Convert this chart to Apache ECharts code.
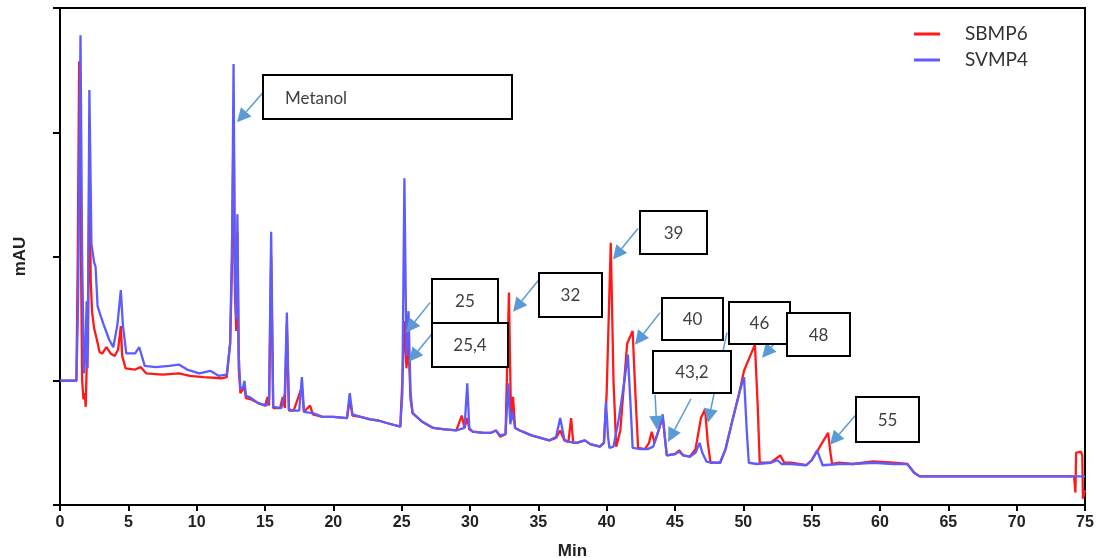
<!DOCTYPE html>
<html><head><meta charset="utf-8">
<script src="https://cdn.jsdelivr.net/npm/echarts@6/dist/echarts.min.js"></script>
<style>html,body{margin:0;padding:0;background:#fff}#c{width:1100px;height:558px}</style>
</head><body><div id="c"></div>
<script>
// ---- data ----
const seriesNames = ['SBMP6', 'SVMP4'];
const xAxisName = 'Min';
const yAxisName = 'mAU';

// SBMP6 : [time (min), signal]
const sbmp6 = [[0,1.0],[1.2,1.0],[1.3,2.0],[1.4,3.57],[1.52,2.2],[1.62,1.0],[1.72,0.85],[1.8,0.9],[1.88,0.79],[1.95,1.1],[2.05,1.3],[2.15,2.8],[2.25,1.8],[2.35,1.55],[2.5,1.42],[2.7,1.33],[2.9,1.23],[3.1,1.22],[3.4,1.27],[3.7,1.22],[4.0,1.2],[4.25,1.25],[4.45,1.44],[4.55,1.2],[4.8,1.1],[5.5,1.09],[5.9,1.11],[6.3,1.06],[7.5,1.05],[8.7,1.06],[9.5,1.04],[10.5,1.03],[11.8,1.02],[12.2,1.03],[12.45,1.3],[12.6,2.0],[12.7,3.2],[12.8,1.7],[12.9,1.4],[12.98,2.2],[13.08,1.1],[13.2,0.9],[13.5,0.95],[13.6,0.86],[14,0.85],[14.5,0.82],[15.0,0.8],[15.2,0.87],[15.3,0.8],[15.45,2.0],[15.6,0.78],[16.1,0.78],[16.3,0.87],[16.45,0.78],[16.6,1.45],[16.75,0.76],[17.1,0.76],[17.7,0.95],[17.85,0.75],[18.3,0.8],[18.5,0.73],[19.2,0.71],[20,0.71],[21.0,0.70],[21.2,0.85],[21.4,0.72],[22.0,0.71],[22.7,0.69],[23.3,0.68],[23.9,0.66],[24.9,0.63],[25.05,1.0],[25.2,1.48],[25.35,1.1],[25.5,1.3],[25.65,0.85],[25.8,0.74],[26.5,0.67],[27.3,0.62],[28.0,0.61],[29.0,0.6],[29.4,0.72],[29.6,0.62],[29.8,0.7],[29.95,0.61],[30.2,0.59],[31,0.58],[31.5,0.58],[31.9,0.6],[32.2,0.55],[32.6,0.57],[32.85,1.71],[33.0,0.7],[33.15,0.87],[33.3,0.62],[33.65,0.6],[34.5,0.56],[35.8,0.52],[36.3,0.54],[36.6,0.6],[36.9,0.52],[37.2,0.51],[37.4,0.7],[37.55,0.5],[37.8,0.5],[38.4,0.52],[38.8,0.49],[39.5,0.47],[39.8,0.5],[40.0,0.9],[40.3,2.11],[40.5,1.0],[40.7,0.47],[41.0,0.6],[41.5,1.3],[41.9,1.4],[42.1,0.9],[42.3,0.46],[42.8,0.45],[43.1,0.5],[43.3,0.59],[43.5,0.5],[43.8,0.6],[44.1,0.71],[44.3,0.5],[44.4,0.4],[45.0,0.41],[45.3,0.44],[45.6,0.4],[46.1,0.39],[46.5,0.45],[46.9,0.7],[47.2,0.77],[47.4,0.5],[47.6,0.34],[48.3,0.34],[48.7,0.45],[49.2,0.68],[49.7,0.9],[50.05,1.08],[50.5,1.2],[50.85,1.29],[51.05,0.8],[51.2,0.34],[52.0,0.34],[52.7,0.4],[53.0,0.34],[53.5,0.34],[54.6,0.32],[55.0,0.36],[55.5,0.45],[56.2,0.58],[56.4,0.4],[56.5,0.33],[57,0.34],[58,0.33],[59.5,0.35],[61,0.34],[62,0.33],[62.5,0.26],[62.9,0.23],[74.2,0.23],[74.3,0.1],[74.35,0.42],[74.7,0.43],[74.8,0.4],[74.85,0.05],[75,0.12]];

// SVMP4 : [time (min), signal]
const svmp4 = [[0,1.0],[1.2,1.0],[1.32,1.6],[1.5,3.78],[1.62,2.0],[1.75,1.06],[1.85,1.2],[1.95,1.64],[2.02,1.1],[2.15,3.34],[2.3,2.1],[2.5,1.95],[2.6,1.92],[2.75,1.6],[2.95,1.53],[3.2,1.45],[3.6,1.33],[3.9,1.27],[4.2,1.45],[4.45,1.73],[4.6,1.45],[4.85,1.22],[5.5,1.22],[5.8,1.27],[6.2,1.12],[7,1.11],[8.0,1.12],[8.7,1.13],[9.3,1.09],[10.2,1.06],[11.0,1.08],[11.6,1.04],[12.2,1.05],[12.45,1.3],[12.6,2.2],[12.7,3.55],[12.8,1.8],[12.9,1.5],[12.98,2.34],[13.08,1.2],[13.2,0.93],[13.4,0.95],[13.5,1.0],[13.6,0.88],[14.0,0.86],[14.5,0.82],[15.1,0.8],[15.3,0.85],[15.45,2.2],[15.6,0.79],[16.2,0.78],[16.45,0.9],[16.6,1.55],[16.75,0.77],[17.1,0.76],[17.5,0.76],[17.7,1.03],[17.85,0.75],[18.5,0.74],[19.2,0.71],[20.0,0.71],[21.0,0.70],[21.2,0.9],[21.4,0.73],[22.0,0.71],[22.7,0.69],[23.3,0.68],[23.9,0.66],[24.9,0.63],[25.05,0.9],[25.2,2.63],[25.35,1.2],[25.5,1.56],[25.65,0.9],[25.8,0.74],[26.5,0.67],[27.3,0.62],[28.0,0.61],[29.0,0.6],[29.6,0.62],[29.8,0.98],[29.95,0.62],[30.2,0.59],[31.0,0.58],[31.5,0.58],[31.9,0.6],[32.2,0.56],[32.6,0.57],[32.8,0.98],[32.95,0.65],[33.1,0.75],[33.3,0.62],[33.65,0.6],[34.5,0.56],[35.8,0.52],[36.3,0.55],[36.6,0.7],[36.9,0.53],[37.1,0.51],[37.8,0.5],[38.4,0.52],[38.8,0.49],[39.5,0.47],[39.8,0.5],[39.95,0.83],[40.1,0.55],[40.2,0.46],[40.5,0.47],[40.9,0.7],[41.3,1.0],[41.55,1.21],[41.75,0.8],[41.9,0.46],[42.5,0.45],[43.0,0.45],[43.4,0.47],[43.8,0.6],[44.1,0.73],[44.3,0.5],[44.4,0.4],[45.0,0.41],[45.3,0.43],[45.6,0.4],[46.1,0.39],[46.5,0.42],[46.8,0.5],[47.0,0.42],[47.3,0.35],[47.8,0.34],[48.3,0.34],[48.7,0.45],[49.2,0.68],[49.7,0.9],[50.05,1.03],[50.25,0.6],[50.4,0.34],[51.0,0.33],[52.0,0.34],[52.5,0.36],[52.8,0.33],[53.5,0.33],[54.6,0.32],[55.0,0.36],[55.4,0.44],[55.6,0.38],[55.8,0.32],[57,0.33],[58,0.33],[59.5,0.34],[61,0.33],[62.0,0.33],[62.5,0.26],[62.9,0.23],[75,0.23]];

// annotation texts
const annotationLabels = ['Metanol', '25', '25,4', '32', '39', '40', '43,2', '46', '48', '55'];

// ---- annotation layout (data coordinates for anchor, pixels for box size) ----
const annotationLayout = [
  {box:[23.96,3.28], size:[249,44], align:'left', arrows:[[[14.86,3.32],[12.95,3.08]]]},
  {box:[29.63,1.645], size:[66,44], arrows:[[[27.07,1.629],[25.32,1.387]]]},
  {box:[30.0,1.29], size:[76,44], arrows:[[[27.58,1.427],[25.54,1.153]]]},
  {box:[37.35,1.694], size:[63,44], arrows:[[[35.05,1.815],[33.15,1.556]]]},
  {box:[44.89,2.19], size:[67,43], arrows:[[[42.29,2.226],[40.46,1.976]]]},
  {box:[46.28,1.5], size:[61,42], arrows:[[[43.90,1.548],[42.07,1.29]]]},
  {box:[46.24,1.073], size:[78,42], arrows:[[[43.54,0.887],[43.68,0.605]],[[46.17,0.855],[44.49,0.508]]]},
  {box:[51.18,1.468], size:[61,42], arrows:[[[48.80,1.387],[47.41,0.661]]]},
  {box:[55.5,1.375], size:[63,43], arrows:[[[53.27,1.427],[51.37,1.185]]]},
  {box:[60.55,0.69], size:[63,45], arrows:[[[58.24,0.726],[56.34,0.484]]]}
];

const arrowList = [];
annotationLayout.forEach(a => a.arrows.forEach(ar => arrowList.push(ar)));

const ARROW_COLOR = '#5B9BD5';

function renderArrow(params, api) {
  const a = arrowList[params.dataIndex];
  const p0 = api.coord(a[0]), p1 = api.coord(a[1]);
  const dx = p1[0]-p0[0], dy = p1[1]-p0[1], len = Math.hypot(dx, dy);
  const ux = dx/len, uy = dy/len, L = 14, W = 7;
  const bx = p1[0]-ux*L, by = p1[1]-uy*L;
  return {type:'group', children:[
    {type:'line', shape:{x1:p0[0], y1:p0[1], x2:bx, y2:by}, style:{stroke:ARROW_COLOR, lineWidth:1.5}},
    {type:'polygon', shape:{points:[[p1[0],p1[1]],[bx-uy*W, by+ux*W],[bx+uy*W, by-ux*W]]}, style:{fill:ARROW_COLOR}}
  ]};
}

function renderBox(params, api) {
  const i = params.dataIndex;
  const L = annotationLayout[i];
  const c = api.coord(L.box);
  const w = L.size[0], h = L.size[1];
  const x = Math.round(c[0]-w/2), y = Math.round(c[1]-h/2);
  const left = L.align === 'left';
  return {type:'group', children:[
    {type:'rect', shape:{x:x, y:y, width:w, height:h}, style:{fill:'#fff', stroke:'#000', lineWidth:2}},
    {type:'text', style:{text:annotationLabels[i], x: left ? x+22 : c[0], y: c[1]+1,
      align: left ? 'left' : 'center', verticalAlign:'middle',
      fontFamily:'Lato', fontSize:17, fill:'#404040'}}
  ]};
}

const chart = echarts.init(document.getElementById('c'), null, {renderer:'canvas'});
chart.setOption({
  animation:false,
  backgroundColor:'#fff',
  grid:{left:60, right:15, top:8, bottom:53, show:true, borderColor:'#000', borderWidth:2, backgroundColor:'transparent',
        containLabel:false, outerBoundsMode:'none'},
  legend:{
    data:seriesNames, orient:'vertical', left:909, top:19, icon:'rect', itemWidth:26, itemHeight:3, itemGap:6,
    textStyle:{fontFamily:'Lato', fontSize:19, color:'#333', lineHeight:20, padding:[0,0,0,20]}
  },
  xAxis:{
    type:'value', min:0, max:75, interval:5,
    name:xAxisName, nameLocation:'middle', nameGap:38,
    nameTextStyle:{fontFamily:'Liberation Sans', fontWeight:'bold', fontSize:17, color:'#222'},
    axisLine:{lineStyle:{color:'#000', width:2}},
    axisTick:{show:true, length:6, lineStyle:{color:'#000', width:2}},
    axisLabel:{fontFamily:'Liberation Sans', fontWeight:'bold', fontSize:16, color:'#222', margin:10},
    splitLine:{show:false}
  },
  yAxis:{
    type:'value', min:0, max:4, interval:1,
    name:yAxisName, nameLocation:'middle', nameGap:31,
    nameTextStyle:{fontFamily:'Liberation Sans', fontWeight:'bold', fontSize:17, color:'#222'},
    axisLine:{show:true, lineStyle:{color:'#000', width:2}},
    axisTick:{show:true, length:7, lineStyle:{color:'#000', width:2}},
    axisLabel:{show:false},
    splitLine:{show:false}
  },
  series:[
    {name:seriesNames[0], type:'line', data:sbmp6, symbol:'none', z:2,
     lineStyle:{color:'#ff1a1a', width:2.3}, itemStyle:{color:'#ff1a1a'}},
    {name:seriesNames[1], type:'line', data:svmp4, symbol:'none', z:3,
     lineStyle:{color:'#5c5cff', width:2.3}, itemStyle:{color:'#5c5cff'}},
    {type:'custom', name:'arrows', silent:true, z:4, data:arrowList.map(a => a[1]), renderItem:renderArrow},
    {type:'custom', name:'boxes', silent:true, z:5, data:annotationLayout.map(a => a.box), renderItem:renderBox}
  ]
});
</script></body></html>
